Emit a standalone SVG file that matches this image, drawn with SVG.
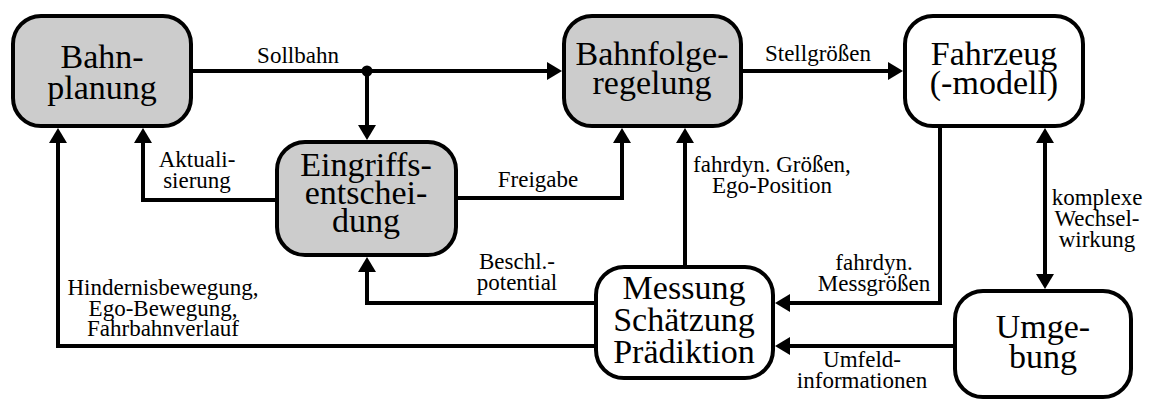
<svg xmlns="http://www.w3.org/2000/svg" width="1149" height="401" viewBox="0 0 1149 401">
  <style>
    .box { stroke: #000; stroke-width: 4; }
    .gray { fill: #cccccc; }
    .white { fill: #ffffff; }
    .big { font-family: "Liberation Serif", "DejaVu Serif", serif; font-size: 34px; text-anchor: middle; fill: #000; }
    .lbl { font-family: "Liberation Serif", "DejaVu Serif", serif; font-size: 23px; text-anchor: middle; fill: #000; }
    .wire { fill: none; stroke: #000; stroke-width: 4; stroke-linejoin: miter; stroke-linecap: butt; }
    .arr { marker-end: url(#head); }
  </style>
  <defs>
    <marker id="head" markerUnits="userSpaceOnUse" viewBox="0 0 15 18" markerWidth="15" markerHeight="18" refX="5" refY="9" orient="auto-start-reverse">
      <path d="M0,0 L15,9 L0,18 Z" fill="#000"/>
    </marker>
  </defs>

  <rect width="1149" height="401" fill="#ffffff"/>

  <!-- connectors and their labels -->
  <g id="connectors">
    <path class="wire arr" d="M193,71 H552"/>
    <circle cx="367" cy="71" r="5.5" fill="#000"/>
    <path class="wire arr" d="M367,71 V130"/>
    <path class="wire arr" d="M743,71 H893"/>
    <path class="wire arr" d="M275,200 H143 V138"/>
    <path class="wire arr" d="M458,198 H622 V138"/>
    <path class="wire arr" d="M685,265 V138"/>
    <path class="wire arr" d="M940,128 V303 H785"/>
    <path class="wire arr" d="M1045,138 V279" marker-start="url(#head)"/>
    <path class="wire arr" d="M953,346 H785"/>
    <path class="wire arr" d="M594,303 H367 V267"/>
    <path class="wire arr" d="M594,346 H58 V138"/>

    <text class="lbl" x="298" y="63">Sollbahn</text>
    <text class="lbl" x="818" y="61">Stellgrößen</text>
    <text class="lbl" y="167"><tspan x="197">Aktuali-</tspan><tspan x="197" dy="21">sierung</tspan></text>
    <text class="lbl" x="538" y="187">Freigabe</text>
    <text class="lbl" y="172"><tspan x="772">fahrdyn. Größen,</tspan><tspan x="772" dy="21">Ego-Position</tspan></text>
    <text class="lbl" y="205"><tspan x="1097">komplexe</tspan><tspan x="1097" dy="21">Wechsel-</tspan><tspan x="1097" dy="21">wirkung</tspan></text>
    <text class="lbl" y="269"><tspan x="517">Beschl.-</tspan><tspan x="517" dy="21">potential</tspan></text>
    <text class="lbl" y="270"><tspan x="874">fahrdyn.</tspan><tspan x="874" dy="21">Messgrößen</tspan></text>
    <text class="lbl" y="295"><tspan x="163">Hindernisbewegung,</tspan><tspan x="163" dy="20.5">Ego-Bewegung,</tspan><tspan x="163" dy="20.5">Fahrbahnverlauf</tspan></text>
    <text class="lbl" y="367"><tspan x="862">Umfeld-</tspan><tspan x="862" dy="21">informationen</tspan></text>
  </g>

  <!-- nodes -->
  <g id="bahnplanung">
    <rect class="box gray" x="13" y="16" width="178" height="110" rx="28"/>
    <text class="big" y="68"><tspan x="102">Bahn-</tspan><tspan x="102" dy="31">planung</tspan></text>
  </g>
  <g id="bahnfolgeregelung">
    <rect class="box gray" x="564" y="16" width="177" height="110" rx="28"/>
    <text class="big" y="65"><tspan x="652">Bahnfolge-</tspan><tspan x="652" dy="29">regelung</tspan></text>
  </g>
  <g id="fahrzeug">
    <rect class="box white" x="905" y="16" width="178" height="110" rx="28"/>
    <text class="big" y="65"><tspan x="994">Fahrzeug</tspan><tspan x="994" dy="29">(-modell)</tspan></text>
  </g>
  <g id="eingriffsentscheidung">
    <rect class="box gray" x="277" y="142" width="179" height="113" rx="28"/>
    <text class="big" y="176"><tspan x="366">Eingriffs-</tspan><tspan x="366" dy="28">entschei-</tspan><tspan x="366" dy="28">dung</tspan></text>
  </g>
  <g id="messung">
    <rect class="box white" x="596" y="267" width="177" height="111" rx="28"/>
    <text class="big" y="299"><tspan x="684">Messung</tspan><tspan x="684" dy="32">Schätzung</tspan><tspan x="684" dy="32">Prädiktion</tspan></text>
  </g>
  <g id="umgebung">
    <rect class="box white" x="955" y="291" width="176" height="106" rx="28"/>
    <text class="big" y="338"><tspan x="1043">Umge-</tspan><tspan x="1043" dy="30">bung</tspan></text>
  </g>
</svg>
